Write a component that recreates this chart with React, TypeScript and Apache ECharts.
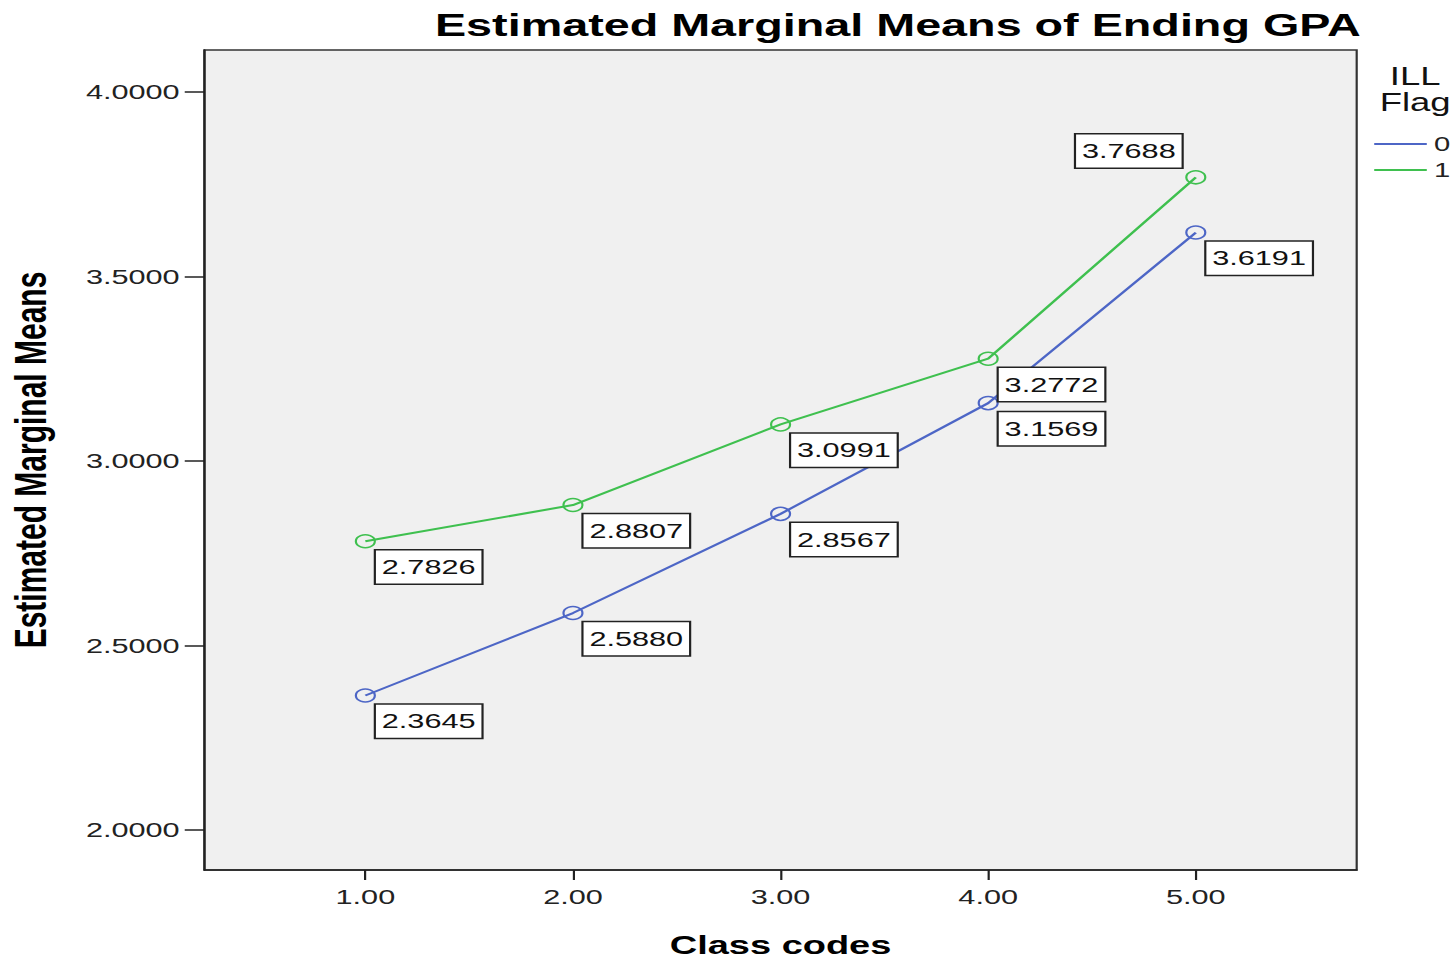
import React, { useEffect, useRef } from "react";
import * as echarts from "echarts";

const classCodes = [1, 2, 3, 4, 5];
const flag0Means = [2.3645, 2.588, 2.8567, 3.1569, 3.6191];
const flag1Means = [2.7826, 2.8807, 3.0991, 3.2772, 3.7688];
const seriesNames = ["0", "1"];
const yTicks = [2.0, 2.5, 3.0, 3.5, 4.0];
const xTicks = [1, 2, 3, 4, 5];

const BLUE = "#4d66c6";
const GREEN = "#3fc04f";

const W = 997;
const H = 961;
const S = 1456 / W;

const FONT = "Liberation Sans";

function buildData(values: number[], flipLast: boolean) {
  return classCodes.map((c, i) => {
    const item: any = { value: [c, values[i]] };
    if (flipLast && i === values.length - 1) {
      item.label = { position: [-2.5, -2.5], align: "right", verticalAlign: "bottom" };
    }
    return item;
  });
}

export default function App() {
  const ref = useRef<HTMLDivElement>(null);
  useEffect(() => {
    if (!ref.current) return;
    const chart = echarts.init(ref.current, undefined, { renderer: "svg" });
    const labelStyle = {
      show: true,
      position: [14.5, 16.5],
      align: "left",
      verticalAlign: "top",
      formatter: (p: any) => Number(p.value[1]).toFixed(4),
      fontSize: 21,
      fontFamily: FONT,
      color: "#111",
      backgroundColor: "#ffffff",
      borderColor: "#222",
      borderWidth: 1.5,
      padding: [6, 4, 6, 4],
    };
    const mkSeries = (name: string, values: number[], color: string, flipLast: boolean) => ({
      name,
      type: "line",
      data: buildData(values, flipLast),
      symbol: "circle",
      symbolSize: 13,
      color,
      lineStyle: { color, width: 2 },
      itemStyle: { color: "rgba(0,0,0,0)", borderColor: color, borderWidth: 1.5 },
      label: labelStyle,
      z: 3,
    });
    chart.setOption({
      animation: false,
      backgroundColor: "#ffffff",
      textStyle: { fontFamily: FONT },
      title: {
        text: "Estimated Marginal Means of Ending GPA",
        right: 60,
        top: 4,
        textStyle: { fontSize: 32, fontWeight: "bold", fontFamily: FONT, color: "#000" },
      },
      grid: {
        left: 140,
        right: 68,
        top: 50,
        bottom: 91,
        outerBoundsMode: "none",
        containLabel: false,
        show: true,
        backgroundColor: "#f0f0f0",
        borderColor: "#333",
        borderWidth: 1.5,
      },
      legend: {
        orient: "vertical",
        left: 941,
        top: 134,
        padding: 0,
        itemWidth: 36,
        itemHeight: 2,
        itemGap: 6,
        icon: "rect",
        textStyle: { fontSize: 20, color: "#222", fontFamily: FONT },
        data: [
          { name: seriesNames[0], itemStyle: { color: BLUE, borderWidth: 0 } },
          { name: seriesNames[1], itemStyle: { color: GREEN, borderWidth: 0 } },
        ],
      },
      graphic: [
        {
          type: "text",
          x: 969,
          y: 64,
          style: {
            text: "ILL",
            textAlign: "center",
            font: `25px "${FONT}"`,
            fill: "#111",
          },
        },
        {
          type: "text",
          x: 969,
          y: 90,
          style: {
            text: "Flag",
            textAlign: "center",
            font: `25px "${FONT}"`,
            fill: "#111",
          },
        },
      ],
      xAxis: {
        type: "value",
        min: 0.225,
        max: 5.775,
        name: "Class codes",
        nameLocation: "middle",
        nameGap: 62,
        nameTextStyle: { fontSize: 26, fontWeight: "bold", color: "#000", fontFamily: FONT },
        axisLine: { show: true, lineStyle: { color: "#222", width: 1.5 } },
        axisTick: { show: true, customValues: xTicks, length: 10, lineStyle: { color: "#222", width: 1.5 } },
        axisLabel: {
          customValues: xTicks,
          formatter: (v: number) => v.toFixed(2),
          fontSize: 21,
          color: "#222",
          margin: 16,
        },
        splitLine: { show: false },
      },
      yAxis: {
        type: "value",
        min: 1.8916,
        max: 4.1138,
        name: "Estimated Marginal Means",
        nameLocation: "middle",
        nameGap: 104,
        nameTextStyle: { fontSize: 30, fontWeight: "bold", color: "#000", fontFamily: FONT },
        axisLine: { show: true, lineStyle: { color: "#222", width: 1.5 } },
        axisTick: { show: true, customValues: yTicks, length: 13.5, lineStyle: { color: "#222", width: 1.5 } },
        axisLabel: {
          customValues: yTicks,
          formatter: (v: number) => v.toFixed(4),
          fontSize: 21,
          color: "#222",
          margin: 17,
        },
        splitLine: { show: false },
      },
      series: [
        mkSeries(seriesNames[0], flag0Means, BLUE, false),
        mkSeries(seriesNames[1], flag1Means, GREEN, true),
      ],
    });
    return () => chart.dispose();
  }, []);
  return (
    <div
      ref={ref}
      style={{
        position: "fixed",
        left: 0,
        top: 0,
        width: W,
        height: H,
        transform: `scaleX(${S})`,
        transformOrigin: "0 0",
      }}
    />
  );
}
